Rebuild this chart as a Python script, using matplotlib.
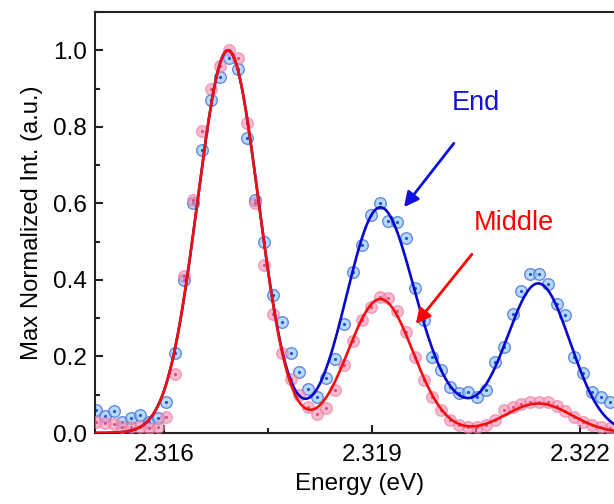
import numpy as np
import matplotlib
matplotlib.use("Agg")
import matplotlib.pyplot as plt
from matplotlib.ticker import MultipleLocator, FixedLocator, FormatStrFormatter

plt.rcParams['font.family'] = ['Liberation Sans', 'DejaVu Sans']

# Photon energy of each measured point (eV)
energy = [2.31501, 2.31514, 2.31527, 2.31539, 2.31552, 2.31565, 2.31578, 2.31591,
          2.31603, 2.31616, 2.31629, 2.31642, 2.31655, 2.31667, 2.31680, 2.31693,
          2.31706, 2.31719, 2.31731, 2.31744, 2.31757, 2.31770, 2.31783, 2.31795,
          2.31808, 2.31821, 2.31834, 2.31847, 2.31859, 2.31872, 2.31885, 2.31898,
          2.31911, 2.31923, 2.31936, 2.31949, 2.31962, 2.31975, 2.31987, 2.32000,
          2.32013, 2.32026, 2.32039, 2.32051, 2.32064, 2.32077, 2.32090, 2.32103,
          2.32115, 2.32128, 2.32141, 2.32154, 2.32167, 2.32179, 2.32192, 2.32205,
          2.32218, 2.32231, 2.32243]

# Max-normalized intensity, spectrum taken at the end
end_int = [0.060, 0.045, 0.057, 0.030, 0.040, 0.047, 0.030, 0.040, 0.080, 0.210,
           0.400, 0.600, 0.740, 0.870, 0.930, 0.980, 0.950, 0.770, 0.610, 0.500,
           0.360, 0.290, 0.210, 0.160, 0.115, 0.094, 0.144, 0.193, 0.285, 0.420,
           0.490, 0.570, 0.600, 0.553, 0.551, 0.510, 0.380, 0.295, 0.198, 0.164,
           0.120, 0.104, 0.107, 0.094, 0.112, 0.185, 0.225, 0.310, 0.370, 0.415,
           0.415, 0.390, 0.337, 0.308, 0.198, 0.157, 0.107, 0.094, 0.081]

# Max-normalized intensity, spectrum taken in the middle
middle_int = [0.029, 0.026, 0.024, 0.016, 0.016, 0.015, 0.013, 0.016, 0.042, 0.154,
              0.410, 0.610, 0.790, 0.900, 0.960, 1.000, 0.980, 0.810, 0.600, 0.440,
              0.310, 0.210, 0.140, 0.100, 0.068, 0.050, 0.065, 0.112, 0.178, 0.240,
              0.295, 0.330, 0.355, 0.352, 0.320, 0.264, 0.198, 0.138, 0.094, 0.060,
              0.034, 0.021, 0.016, 0.016, 0.021, 0.035, 0.060, 0.068, 0.076, 0.081,
              0.081, 0.081, 0.070, 0.057, 0.042, 0.029, 0.021, 0.016, 0.013]

# Multi-Gaussian fit parameters (centre eV, amplitude, sigma eV)
end_fit_centers = [2.31692, 2.31910, 2.31995, 2.32140]
end_fit_amps = [1.00, 0.575, 0.06, 0.39]
end_fit_sigmas = [0.00044, 0.00048, 0.00050, 0.00046]

middle_fit_centers = [2.31692, 2.31912, 2.32140]
middle_fit_amps = [1.00, 0.35, 0.077]
middle_fit_sigmas = [0.00044, 0.00047, 0.00048]


def gauss_sum(x, centers, amps, sigmas):
    y = np.zeros_like(x)
    for c, a, s in zip(centers, amps, sigmas):
        y += a * np.exp(-0.5 * ((x - c) / s) ** 2)
    return y


fig = plt.figure(figsize=(6.14, 5.04), dpi=100)
ax = fig.add_axes([95 / 614, 71 / 504, 530 / 614, 421 / 504])

ax.scatter(energy, end_int, s=70, facecolor=(0.55, 0.78, 0.97, 0.65),
           edgecolor=(0.25, 0.40, 0.85, 0.75), linewidth=1.0, zorder=2)
ax.scatter(energy, end_int, s=1.5, color=(0.15, 0.3, 0.8), zorder=2.1)
ax.scatter(energy, middle_int, s=70, facecolor=(0.96, 0.55, 0.70, 0.6),
           edgecolor=(0.92, 0.45, 0.62, 0.6), linewidth=1.0, zorder=3)
ax.scatter(energy, middle_int, s=1.5, color=(0.9, 0.3, 0.45), zorder=3.1)

xfit = np.linspace(2.3149, 2.3228, 800)
ax.plot(xfit, gauss_sum(xfit, end_fit_centers, end_fit_amps, end_fit_sigmas),
        color='#0808cc', lw=1.9, zorder=4)
ax.plot(xfit, gauss_sum(xfit, middle_fit_centers, middle_fit_amps, middle_fit_sigmas),
        color='#f01010', lw=1.9, zorder=5)

ax.set_xlim(2.315, 2.32265)
ax.set_ylim(0, 1.1)

ax.xaxis.set_major_locator(FixedLocator([2.316, 2.319, 2.322]))
ax.xaxis.set_minor_locator(FixedLocator([2.3175, 2.3205]))
ax.set_xticklabels(['2.316', '2.319', '2.322'])
ax.yaxis.set_major_locator(MultipleLocator(0.2))
ax.yaxis.set_minor_locator(MultipleLocator(0.1))
ax.yaxis.set_major_formatter(FormatStrFormatter('%.1f'))

ax.tick_params(which='both', direction='in', top=False, right=False,
               width=1.5, color='#222222', labelsize=17.5)
ax.tick_params(which='major', length=6)
ax.tick_params(which='minor', length=3.5)
ax.tick_params(axis='x', pad=8)
ax.tick_params(axis='y', pad=6)
for sp in ax.spines.values():
    sp.set_linewidth(1.5)
    sp.set_color('#222222')

ax.set_xlabel('Energy (eV)', fontsize=17.5, labelpad=5)
ax.set_ylabel('Max Normalized Int. (a.u.)', fontsize=17.2, labelpad=7)

ax.text(2.32050, 0.862, 'End', color='#1010e0', fontsize=19.5,
        ha='center', va='center')
ax.text(2.32104, 0.548, 'Middle', color='#ff0000', fontsize=19.5,
        ha='center', va='center')
ax.annotate('', xy=(2.31946, 0.590), xytext=(2.32018, 0.757),
            arrowprops=dict(arrowstyle='-|>', color='#1010e0', lw=2,
                            mutation_scale=22, shrinkA=0, shrinkB=0), zorder=6)
ax.annotate('', xy=(2.31963, 0.285), xytext=(2.32044, 0.467),
            arrowprops=dict(arrowstyle='-|>', color='#ff0000', lw=2,
                            mutation_scale=22, shrinkA=0, shrinkB=0), zorder=6)

fig.savefig('out.png', dpi=100)
